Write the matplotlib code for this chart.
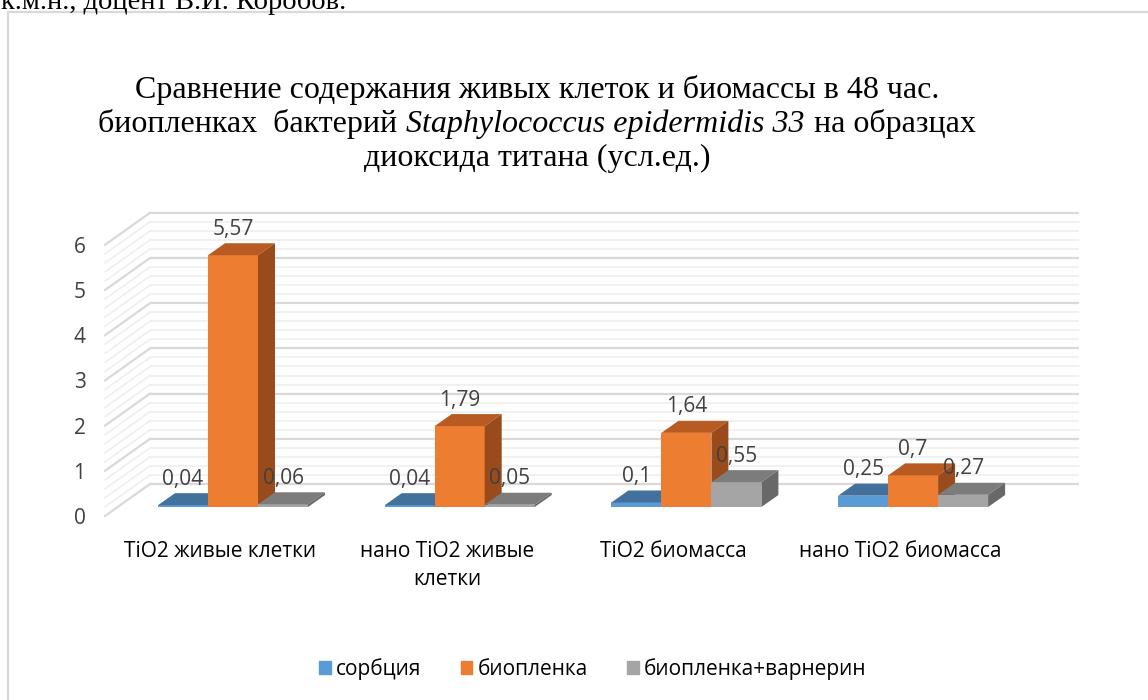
import matplotlib
matplotlib.use('Agg')
import matplotlib.pyplot as plt
from matplotlib.patches import Polygon, Patch
from matplotlib.lines import Line2D

categories = ['TiO2 живые клетки', 'нано TiO2 живые\nклетки', 'TiO2 биомасса', 'нано TiO2 биомасса']
series_names = ['сорбция', 'биопленка', 'биопленка+варнерин']
sorption = [0.04, 0.04, 0.1, 0.25]
biofilm = [5.57, 1.79, 1.64, 0.7]
biofilm_warnerin = [0.06, 0.05, 0.55, 0.27]
y_ticks = [0, 1, 2, 3, 4, 5, 6]

W, H = 1148, 700
SANS = ['Open Sans', 'DejaVu Sans']
SERIF = ['Liberation Serif', 'DejaVu Serif']
TXT = '#404040'
FS = 15

# pixel geometry of the pseudo-3D plot
X0, XSTEP = 233.0, 226.7      # first group centre, distance between groups
Y0, VSTEP = 507.0, 45.2       # bar baseline (front face), px per unit
BAR_W = 50.0                  # bar width, px
DEPTH = (17.0, 12.0)          # bar depth offset (right, up), px
WALL_FRONT = (-12.7, -9.0)    # front edge of the walls relative to bars
WALL_BACK = (32.3, 23.0)      # back wall relative to bars
WALL_LEFT, WALL_RIGHT = 117.7, 1079.0


def fx(px):
    return px / W


def fy(py):
    return 1 - py / H


def dx(px):
    return px / XSTEP


def dv(px):
    return px / VSTEP


fig = plt.figure(figsize=(W / 100, H / 100), dpi=100)

ax = fig.add_axes([0, 0, 1, 1])
ax.set_xlim(-X0 / XSTEP, (W - X0) / XSTEP)
ax.set_ylim((Y0 - H) / VSTEP, Y0 / VSTEP)
ax.axis('off')

# back wall and left wall grid, minor step 0.2
xl = (WALL_LEFT - X0) / XSTEP
xr = (WALL_RIGHT - X0) / XSTEP
for k in range(31):
    v = k * 0.2
    major = k % 5 == 0
    col = '#d9d9d9' if major else '#efefef'
    lw = 1.6 if major else 1.2
    yb = v + dv(WALL_BACK[1])
    ax.plot([xl + dx(WALL_BACK[0]), xr], [yb, yb], color=col, lw=lw, zorder=1 if major else 0.5,
            solid_capstyle='butt')
    ax.plot([xl + dx(WALL_FRONT[0]), xl + dx(WALL_BACK[0])],
            [v + dv(WALL_FRONT[1]), yb], color=col, lw=lw, zorder=1 if major else 0.5)

# bars: front face + top + right side
series = [sorption, biofilm, biofilm_warnerin]
front_c = ['#5B9BD5', '#ED7D31', '#A5A5A5']
top_c = ['#41719C', '#B85B22', '#7C7C7C']
side_c = ['#2F5D87', '#994B1B', '#686868']
bw = dx(BAR_W)
ddx, ddy = dx(DEPTH[0]), dv(DEPTH[1])

for i, vals in enumerate(series):
    z = 2 + i
    xs = [g + (i - 1) * bw for g in range(len(categories))]
    ax.bar(xs, vals, bw, color=front_c[i], linewidth=0, zorder=z)
    for x, v in zip(xs, vals):
        x0, x1 = x - bw / 2, x + bw / 2
        ax.add_patch(Polygon([(x0, v), (x1, v), (x1 + ddx, v + ddy), (x0 + ddx, v + ddy)],
                             closed=True, color=top_c[i], lw=0, zorder=z))
        ax.add_patch(Polygon([(x1, 0), (x1, v), (x1 + ddx, v + ddy), (x1 + ddx, ddy)],
                             closed=True, color=side_c[i], lw=0, zorder=z))
        ax.text(x, v + ddy + dv(14), ('%g' % v).replace('.', ','), ha='center', va='center',
                color=TXT, fontsize=FS, family=SANS, zorder=10)

# axis labels sit on the front edge of the floor
L, R = 105.0, 1040.0
gx0 = X0 + WALL_FRONT[0]
fa = fig.add_axes([fx(L), fy(Y0 - WALL_FRONT[1]), (R - L) / W, 6 * VSTEP / H])
fa.patch.set_alpha(0)
fa.set_frame_on(False)
fa.set_xlim((L - gx0) / XSTEP, (R - gx0) / XSTEP)
fa.set_ylim(0, 6)
fa.set_yticks(y_ticks)
fa.set_yticklabels([str(t) for t in y_ticks], family=SANS, fontsize=FS, color=TXT)
fa.set_xticks(range(len(categories)))
fa.set_xticklabels(categories, family=SANS, fontsize=FS, color='#000000', linespacing=1.45)
fa.tick_params(length=0)
fa.tick_params(axis='y', pad=14)
fa.tick_params(axis='x', pad=18)

# legend
handles = [Patch(color=c) for c in front_c]
fig.legend(handles, series_names, loc='center', bbox_to_anchor=(fx(593), fy(669)), ncol=3,
           frameon=False, prop={'family': SANS, 'size': FS}, handlelength=0.55, handleheight=0.55,
           handletextpad=0.25, columnspacing=1.9, labelcolor='#000000')

# title, middle line mixes upright and italic runs
TS = 23
fig.text(fx(537), fy(90), 'Сравнение содержания живых клеток и биомассы в 48 час.',
         ha='center', va='center', family=SERIF, fontsize=TS)
fig.text(fx(537), fy(158), 'диоксида титана (усл.ед.)',
         ha='center', va='center', family=SERIF, fontsize=TS)

renderer = fig.canvas.get_renderer()
pieces = [('биопленках  бактерий', 'normal'), ('Staphylococcus epidermidis 33', 'italic'),
          ('на образцах', 'normal')]
arts = [fig.text(0, fy(124), s, ha='left', va='center', family=SERIF, fontsize=TS, style=st)
        for s, st in pieces]
sp = fig.text(0, 0, 'н н', family=SERIF, fontsize=TS)
nn = fig.text(0, 0, 'нн', family=SERIF, fontsize=TS)
space = sp.get_window_extent(renderer).width - nn.get_window_extent(renderer).width
sp.remove()
nn.remove()
widths = [a.get_window_extent(renderer).width for a in arts]
gap = space * 1.1
total = sum(widths) + 2 * gap
x = 537 - total / 2
for a, w in zip(arts, widths):
    a.set_x(fx(x))
    x += w + gap

# text above the chart frame and the frame itself
fig.text(fx(1), fy(9), 'к.м.н., доцент В.И. Коробов.', ha='left', va='baseline',
         family=SERIF, fontsize=20.5)
fig.add_artist(Line2D([fx(8), fx(8), fx(W + 5)], [fy(H + 5), fy(12), fy(12)],
                      transform=fig.transFigure, color='#d9d9d9', lw=1.6))

fig.savefig('out.png', dpi=100)
